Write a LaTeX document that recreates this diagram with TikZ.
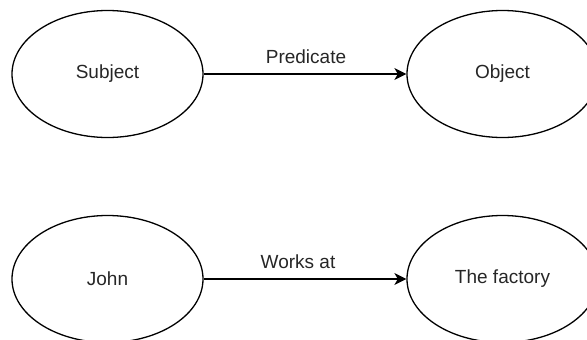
\documentclass[tikz,border=0pt]{standalone}
\usepackage{fontspec}
\setmainfont{Liberation Sans}
\usetikzlibrary{shapes.geometric,arrows.meta}
\begin{document}
\begin{tikzpicture}[x=1pt,y=-1pt,
  entity/.style={ellipse,draw,line width=1.3pt,minimum width=191pt,minimum height=127pt,inner sep=0pt,font=\fontsize{19}{22}\selectfont,text=black!85},
  relation/.style={line width=1.3pt,-{Stealth[length=12pt,width=12pt,inset=3.5pt]}},
  rellabel/.style={font=\fontsize{19}{22}\selectfont,text=black!85,inner sep=0pt}]
  \useasboundingbox (0,0) rectangle (587,340);
  \clip (0,0) rectangle (587,340);
  % generic triple
  \node[entity] (subj) at (107.5,74) {Subject};
  \node[entity] (obj) at (502.5,74) {Object};
  \draw[relation] (subj) -- (obj);
  \node[rellabel] (pred) at (306,57) {Predicate};
  % concrete example
  \node[entity] (john) at (107.5,279) {John};
  \node[entity] (fact) at (502.5,279) {The factory};
  \draw[relation] (john) -- (fact);
  \node[rellabel] (works) at (298,262) {Works at};
\end{tikzpicture}
\end{document}
